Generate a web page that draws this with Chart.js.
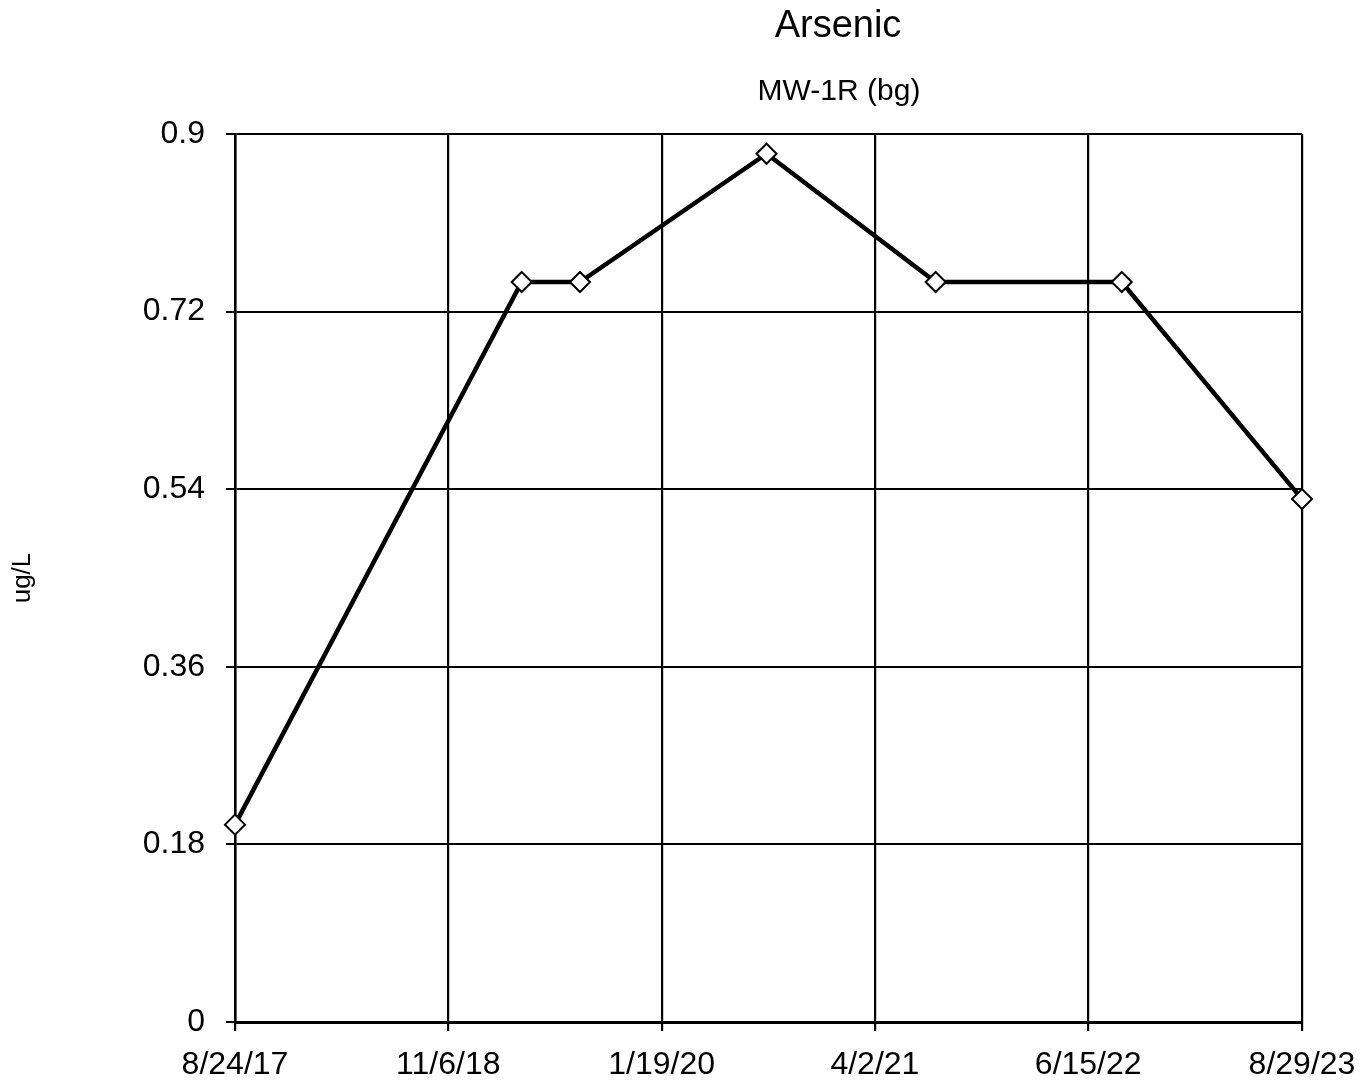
<!DOCTYPE html>
<html lang="en">
<head>
    <meta charset="UTF-8">
    <title>Arsenic</title>
    <style>
        body { margin: 0; background: #fff; }
    </style>
    <script src="https://cdn.jsdelivr.net/npm/chart.js"></script>
</head>
<body>
    <canvas id="lineChart" width="1362" height="1084"></canvas>

    <script>
        // Sample data
        var sampleDates = ['2017-08-24', '2019-04-06', '2019-08-04', '2020-08-22', '2021-08-05', '2022-08-23', '2023-08-29'];
        var arsenic = [0.2, 0.75, 0.75, 0.88, 0.75, 0.75, 0.53];

        // Axis ticks
        var xTickDates = ['2017-08-24', '2018-11-06', '2020-01-19', '2021-04-02', '2022-06-15', '2023-08-29'];
        var xTickLabels = ['8/24/17', '11/6/18', '1/19/20', '4/2/21', '6/15/22', '8/29/23'];
        var yTicks = [0, 0.18, 0.36, 0.54, 0.72, 0.9];
        var yTickLabels = ['0', '0.18', '0.36', '0.54', '0.72', '0.9'];

        var FONT = '"Liberation Sans", Arial, sans-serif';

        // dates as day numbers for a linear x axis
        function toDay(s) {
            return Date.UTC(+s.slice(0, 4), +s.slice(5, 7) - 1, +s.slice(8, 10)) / 86400000;
        }
        var xTickDays = xTickDates.map(toDay);

        var points = [];
        for (var i = 0; i < sampleDates.length; i++) {
            points.push({ x: toDay(sampleDates[i]), y: arsenic[i] });
        }

        // title and well name above the plot
        var titlePlugin = {
            id: 'titles',
            afterDraw: function (chart) {
                var ctx = chart.ctx;
                ctx.save();
                ctx.fillStyle = '#000';
                ctx.textAlign = 'center';
                ctx.textBaseline = 'alphabetic';
                ctx.font = '38px ' + FONT;
                ctx.fillText('Arsenic', 838, 37);
                ctx.font = '30px ' + FONT;
                ctx.fillText('MW-1R (bg)', 839, 100);
                ctx.restore();
            }
        };

        var ctx = document.getElementById('lineChart').getContext('2d');
        var chart = new Chart(ctx, {
            type: 'line',
            data: {
                datasets: [{
                    label: 'MW-1R (bg)',
                    data: points,
                    borderColor: '#000',
                    borderWidth: 4.5,
                    tension: 0,
                    pointStyle: 'rectRot',
                    pointRadius: 10,
                    pointBorderWidth: 2,
                    pointBackgroundColor: '#fff',
                    pointBorderColor: '#000',
                    clip: false
                }]
            },
            options: {
                responsive: false,
                animation: false,
                layout: {
                    padding: { top: 134, right: 60, bottom: 0, left: 0 }
                },
                plugins: {
                    legend: { display: false },
                    tooltip: { enabled: false }
                },
                scales: {
                    x: {
                        type: 'linear',
                        min: xTickDays[0],
                        max: xTickDays[xTickDays.length - 1],
                        afterBuildTicks: function (axis) {
                            axis.ticks = xTickDays.map(function (v) { return { value: v }; });
                        },
                        afterFit: function (axis) {
                            axis.height = 62;
                            axis.paddingRight = 60;
                        },
                        ticks: {
                            color: '#000',
                            font: { family: FONT, size: 32 },
                            padding: 15,
                            maxRotation: 0,
                            autoSkip: false,
                            callback: function (value, index) { return xTickLabels[index]; }
                        },
                        grid: { color: '#000', lineWidth: 2.2, tickLength: 9 },
                        border: { color: '#000', width: 3 }
                    },
                    y: {
                        min: 0,
                        max: 0.9,
                        afterBuildTicks: function (axis) {
                            axis.ticks = yTicks.map(function (v) { return { value: v }; });
                        },
                        afterFit: function (axis) {
                            axis.width = 235;
                        },
                        ticks: {
                            color: '#000',
                            font: { family: FONT, size: 32 },
                            padding: 21,
                            autoSkip: false,
                            callback: function (value, index) { return yTickLabels[index]; }
                        },
                        title: {
                            display: true,
                            text: 'ug/L',
                            color: '#000',
                            font: { family: FONT, size: 26 },
                            padding: { top: 7, bottom: 0 }
                        },
                        grid: { color: '#000', lineWidth: 2, tickLength: 9 },
                        border: { color: '#000', width: 2.5 }
                    }
                }
            },
            plugins: [titlePlugin]
        });
    </script>
</body>
</html>
